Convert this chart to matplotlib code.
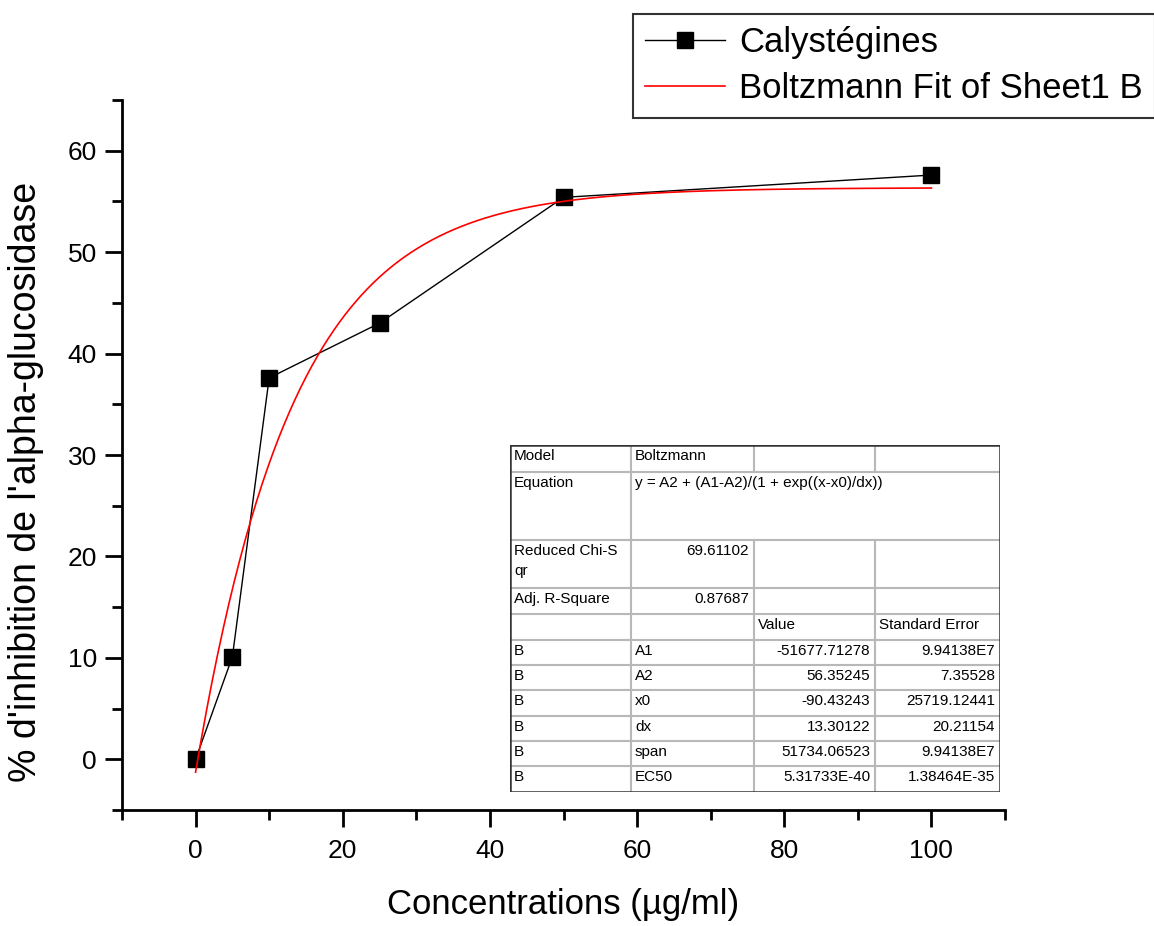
import numpy as np
import matplotlib
matplotlib.use('Agg')
from matplotlib import pyplot as plt
from matplotlib.ticker import MultipleLocator

plt.rcParams['font.family'] = ['Liberation Sans', 'DejaVu Sans']

# data points
conc = [0, 5, 10, 25, 50, 100]
inhib = [0.0, 10.1, 37.6, 43.0, 55.4, 57.6]

# Boltzmann fit parameters (from the fit table)
A1 = -51677.71278
A2 = 56.35245
x0 = -90.43243
dx = 13.30122

# fit table contents
table_rows = [
    ['Model', 'Boltzmann', '', ''],
    ['Equation', 'y = A2 + (A1-A2)/(1 + exp((x-x0)/dx))', '', ''],
    ['Reduced Chi-S\nqr', '69.61102', '', ''],
    ['Adj. R-Square', '0.87687', '', ''],
    ['', '', 'Value', 'Standard Error'],
    ['B', 'A1', '-51677.71278', '9.94138E7'],
    ['B', 'A2', '56.35245', '7.35528'],
    ['B', 'x0', '-90.43243', '25719.12441'],
    ['B', 'dx', '13.30122', '20.21154'],
    ['B', 'span', '51734.06523', '9.94138E7'],
    ['B', 'EC50', '5.31733E-40', '1.38464E-35'],
]

W, H = 1154, 926
fig = plt.figure(figsize=(W / 100, H / 100), dpi=100)
ax = fig.add_axes([122 / W, 1 - 810 / H, (1005 - 122) / W, (810 - 100) / H])

line_data, = ax.plot(conc, inhib, color='black', linewidth=1.0, marker='s',
                     markersize=11, markerfacecolor='black', label='Calystégines')
xfit = np.linspace(min(conc), max(conc), 400)
yfit = A2 + (A1 - A2) / (1 + np.exp((xfit - x0) / dx))
line_fit, = ax.plot(xfit, yfit, color='red', linewidth=1.2,
                    label='Boltzmann Fit of Sheet1 B')

ax.set_xlim(-10, 110)
ax.set_ylim(-5, 65)
ax.xaxis.set_major_locator(MultipleLocator(20))
ax.xaxis.set_minor_locator(MultipleLocator(10))
ax.yaxis.set_major_locator(MultipleLocator(10))
ax.yaxis.set_minor_locator(MultipleLocator(5))
for s in ['top', 'right']:
    ax.spines[s].set_visible(False)
for s in ['left', 'bottom']:
    ax.spines[s].set_linewidth(2)
ax.tick_params(which='major', direction='out', length=12, width=2, labelsize=19)
ax.tick_params(which='minor', direction='out', length=7, width=2)
ax.tick_params(axis='y', which='major', pad=6)
ax.tick_params(axis='x', which='major', pad=9)

ax.set_xlabel('Concentrations (µg/ml)', fontsize=25)
ax.set_ylabel("% d'inhibition de l'alpha-glucosidase", fontsize=27)
ax.xaxis.set_label_coords(0.5, -(888 - 810) / 710, transform=ax.transAxes)
ax.yaxis.set_label_coords(-(122 - 44) / 883, (810 - 482) / 710, transform=ax.transAxes)

leg = fig.legend(handles=[line_data, line_fit], loc='upper left',
                 bbox_to_anchor=(633 / W, 1 - 14 / H), fontsize=25,
                 frameon=True, fancybox=False, borderpad=0.35,
                 handlelength=2.3, handletextpad=0.4, labelspacing=0.38,
                 borderaxespad=0)
leg.get_frame().set_edgecolor('black')
leg.get_frame().set_linewidth(1.5)

# fit table drawn in its own axes (pixel-like coordinates)
tx0, ty0, tx1, ty1 = 510, 445, 1000, 792
tax = fig.add_axes([tx0 / W, 1 - ty1 / H, (tx1 - tx0) / W, (ty1 - ty0) / H])
tax.set_xlim(0, tx1 - tx0)
tax.set_ylim(ty1 - ty0, 0)
tax.axis('off')
col_edges = [0, 121, 244, 365, 490]
row_edges = [0, 27, 95, 143, 169, 195, 220, 245, 271, 296, 321, 347]
tax.add_patch(plt.Rectangle((0, 0), 490, 347, facecolor='white',
                            edgecolor='none', zorder=0))
for yv in row_edges[1:-1]:
    tax.plot([0, 490], [yv, yv], color='#b8b8b8', lw=1.5)
for xv in col_edges[1:-1]:
    for r in range(len(table_rows)):
        # equation cell spans the right three columns
        if r == 1 and xv > 121:
            continue
        tax.plot([xv, xv], [row_edges[r], row_edges[r + 1]], color='#b8b8b8', lw=1.5)
tax.plot([0, 490, 490, 0, 0], [0, 0, 347, 347, 0], color='#333333', lw=1.8)

right_cols = {(2, 1), (3, 1)}
for r, row in enumerate(table_rows):
    for c, txt in enumerate(row):
        if not txt:
            continue
        yt = row_edges[r] + 4
        if r >= 5 and c >= 2 or (r, c) in right_cols:
            tax.text(col_edges[c + 1] - 5, yt, txt, ha='right', va='top', fontsize=11)
        else:
            tax.text(col_edges[c] + 4, yt, txt, ha='left', va='top', fontsize=11,
                     linespacing=1.5)

fig.savefig('out.png', dpi=100)
